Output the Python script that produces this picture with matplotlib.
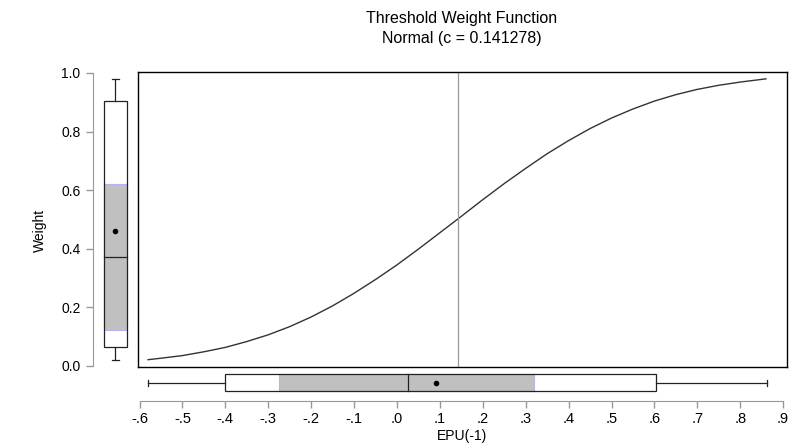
import numpy as np
import matplotlib.pyplot as plt
from matplotlib.patches import Rectangle

plt.rcParams['font.family'] = ['Liberation Sans', 'DejaVu Sans']

# threshold weight curve
epu = [-0.58, -0.55, -0.50, -0.45, -0.40, -0.35, -0.30, -0.25, -0.20, -0.15,
       -0.10, -0.05, 0.00, 0.05, 0.10, 0.15, 0.20, 0.25, 0.30, 0.35,
       0.40, 0.45, 0.50, 0.55, 0.60, 0.65, 0.70, 0.75, 0.80, 0.86]
weight = [0.020, 0.025, 0.034, 0.047, 0.062, 0.082, 0.105, 0.133, 0.166, 0.204,
          0.247, 0.294, 0.344, 0.398, 0.454, 0.510, 0.567, 0.622, 0.674, 0.724,
          0.769, 0.810, 0.846, 0.877, 0.904, 0.926, 0.944, 0.958, 0.969, 0.980]
c_thr = 0.141278

# box plot summaries: whisker lo, q1, ci lo, median, ci hi, q3, whisker hi, mean
w_box = dict(lo=0.02, q1=0.065, cilo=0.12, med=0.37, cihi=0.62, q3=0.905, hi=0.98, mean=0.46)
x_box = dict(lo=-0.58, q1=-0.40, cilo=-0.275, med=0.025, cihi=0.32, q3=0.603, hi=0.862, mean=0.09)

xticks = [-0.6, -0.5, -0.4, -0.3, -0.2, -0.1, 0.0, 0.1, 0.2, 0.3, 0.4, 0.5, 0.6, 0.7, 0.8, 0.9]
xticklabels = ['-.6', '-.5', '-.4', '-.3', '-.2', '-.1', '.0', '.1', '.2', '.3',
               '.4', '.5', '.6', '.7', '.8', '.9']
yticks = [0.0, 0.2, 0.4, 0.6, 0.8, 1.0]
yticklabels = ['0.0', '0.2', '0.4', '0.6', '0.8', '1.0']

W, H = 789, 445
fig = plt.figure(figsize=(W / 100, H / 100), dpi=100)

def rect(x0, y0, x1, y1):
    # pixel box -> figure fraction
    return [x0 / W, 1 - y1 / H, (x1 - x0) / W, (y1 - y0) / H]

xlim = (-0.6035, 0.909)
ylim = (-0.005, 1.0034)
edge = '#222222'
spine_c = '#999999'
shade = '#c0c0c0'
ci_edge = '#b4b4f0'

# main panel
ax = fig.add_axes(rect(138, 72, 787, 367))
ax.plot(epu, weight, color='#333333', lw=1.0)
ax.axvline(c_thr, color='#999999', lw=0.9)
ax.set_xlim(xlim)
ax.set_ylim(ylim)
ax.set_xticks([])
ax.set_yticks([])
for s in ax.spines.values():
    s.set_color('black')
    s.set_linewidth(1.0)

# left box plot (weights)
axl = fig.add_axes(rect(93, 72, 137, 367))
axl.set_xlim(0, 1)
axl.set_ylim(ylim)
cx, hw, cap = 0.51, 0.26, 0.07
b = w_box
axl.plot([cx, cx], [b['lo'], b['q1']], color=edge, lw=0.9)
axl.plot([cx, cx], [b['q3'], b['hi']], color=edge, lw=0.9)
axl.plot([cx - cap, cx + cap], [b['lo'], b['lo']], color=edge, lw=0.9)
axl.plot([cx - cap, cx + cap], [b['hi'], b['hi']], color=edge, lw=0.9)
axl.add_patch(Rectangle((cx - hw, b['q1']), 2 * hw, b['q3'] - b['q1'],
                        facecolor='white', edgecolor='none', zorder=1))
axl.add_patch(Rectangle((cx - hw, b['cilo']), 2 * hw, b['cihi'] - b['cilo'],
                        facecolor=shade, edgecolor=ci_edge, lw=0.8, zorder=2))
axl.add_patch(Rectangle((cx - hw, b['q1']), 2 * hw, b['q3'] - b['q1'],
                        facecolor='none', edgecolor=edge, lw=0.9, zorder=3))
axl.plot([cx - hw, cx + hw], [b['med'], b['med']], color=edge, lw=0.9, zorder=4)
axl.plot([cx], [b['mean']], 'o', color='black', ms=3, zorder=5)
for k in ['top', 'right', 'bottom']:
    axl.spines[k].set_visible(False)
axl.spines['left'].set_color(spine_c)
axl.spines['left'].set_bounds(0, 1)
axl.set_xticks([])
axl.set_yticks(yticks)
axl.set_yticklabels(yticklabels, fontsize=10)
axl.tick_params(axis='y', color=spine_c, length=5, width=1, pad=4)

# bottom box plot (EPU(-1))
axb = fig.add_axes(rect(138, 370, 787, 401))
axb.set_xlim(xlim)
axb.set_ylim(0, 1)
cy, hh, capb = 0.59, 0.28, 0.09
b = x_box
axb.plot([b['lo'], b['q1']], [cy, cy], color=edge, lw=0.9)
axb.plot([b['q3'], b['hi']], [cy, cy], color=edge, lw=0.9)
axb.plot([b['lo'], b['lo']], [cy - capb, cy + capb], color=edge, lw=0.9)
axb.plot([b['hi'], b['hi']], [cy - capb, cy + capb], color=edge, lw=0.9)
axb.add_patch(Rectangle((b['q1'], cy - hh), b['q3'] - b['q1'], 2 * hh,
                        facecolor='white', edgecolor='none', zorder=1))
axb.add_patch(Rectangle((b['cilo'], cy - hh), b['cihi'] - b['cilo'], 2 * hh,
                        facecolor=shade, edgecolor=ci_edge, lw=0.8, zorder=2))
axb.add_patch(Rectangle((b['q1'], cy - hh), b['q3'] - b['q1'], 2 * hh,
                        facecolor='none', edgecolor=edge, lw=0.9, zorder=3))
axb.plot([b['med'], b['med']], [cy - hh, cy + hh], color=edge, lw=0.9, zorder=4)
axb.plot([b['mean']], [cy], 'o', color='black', ms=3, zorder=5)
for k in ['top', 'right', 'left']:
    axb.spines[k].set_visible(False)
axb.spines['bottom'].set_color(spine_c)
axb.spines['bottom'].set_bounds(-0.6, 0.9)
axb.set_yticks([])
axb.set_xticks(xticks)
axb.set_xticklabels(xticklabels, fontsize=10.5)
axb.tick_params(axis='x', color=spine_c, length=5, width=1, pad=3)

fig.text(462 / W, 1 - 19 / H, 'Threshold Weight Function', ha='center', va='center', fontsize=11.5)
fig.text(462 / W, 1 - 39 / H, 'Normal (c = 0.141278)', ha='center', va='center', fontsize=11.5)
fig.text(462 / W, 1 - 436 / H, 'EPU(-1)', ha='center', va='center', fontsize=10)
fig.text(40 / W, 1 - 230 / H, 'Weight', ha='center', va='center', rotation=90, fontsize=10)

fig.savefig('out.png', dpi=100)
